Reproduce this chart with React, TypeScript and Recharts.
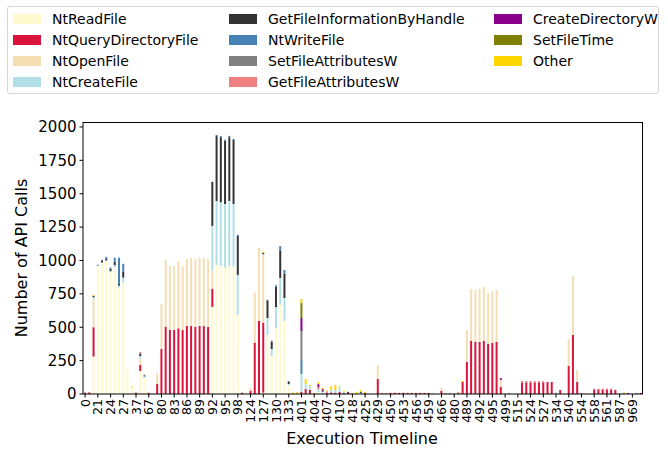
import { BarChart, Bar, XAxis, YAxis, Label } from 'recharts';

const timeline = [
  '0', '19', '20', '21', '22', '23', '24', '25', '26', '27', '28', '36', '37', '38', '39', '67', '68', '79',
  '80', '81', '82', '83', '84', '85', '86', '87', '88', '89', '90', '91', '92', '93', '94', '95', '96', '97',
  '98', '99', '123', '124', '125', '126', '127', '128', '129', '130', '131', '132', '133', '134', '400', '401',
  '402', '403', '404', '405', '406', '407', '408', '409', '410', '411', '417', '418', '419', '424', '425', '426',
  '428', '429', '430', '449', '450', '451', '452', '453', '454', '455', '456', '457', '458', '459', '460', '465',
  '466', '467', '479', '480', '481', '488', '489', '490', '491', '492', '493', '494', '495', '496', '497', '499',
  '500', '514', '515', '522', '523', '524', '525', '526', '527', '528', '529', '534', '535', '539', '540', '541',
  '542', '554', '556', '557', '558', '559', '560', '561', '562', '563', '587', '588', '600', '969', '970', '975',
];

// one value per timeline entry
const ntReadFile = [
  0, 0, 280, 960, 985, 1000, 912, 947, 797, 835, 187, 48, 0, 172, 122, 0, 0, 0,
  0, 0, 0, 0, 0, 0, 0, 0, 0, 0, 0, 0, 652, 966, 959, 946, 959, 954,
  592, 0, 0, 0, 0, 0, 10, 442, 285, 494, 667, 547, 65, 0, 0, 0,
  0, 0, 0, 15, 0, 0, 0, 0, 0, 0, 0, 0, 0, 0, 0, 0,
  0, 0, 0, 0, 0, 0, 0, 0, 0, 0, 0, 0, 0, 0, 0, 0,
  0, 0, 0, 0, 0, 0, 0, 0, 0, 0, 0, 0, 0, 0, 0, 0,
  0, 0, 0, 0, 0, 0, 0, 0, 0, 0, 0, 0, 0, 0, 0, 0,
  0, 0, 0, 0, 0, 0, 0, 0, 0, 0, 0, 0, 0, 0, 0, 0,
];
const ntQueryDirectoryFile = [
  10, 12, 220, 0, 0, 0, 0, 0, 0, 0, 0, 0, 10, 45, 0, 8, 0, 75,
  337, 502, 479, 479, 492, 479, 509, 509, 502, 509, 509, 502, 135, 0, 0, 0, 0, 0,
  0, 10, 0, 25, 385, 547, 525, 0, 0, 0, 0, 0, 0, 0, 0, 15,
  37, 30, 0, 0, 0, 8, 12, 8, 15, 8, 8, 0, 0, 0, 8, 0,
  0, 112, 0, 0, 8, 8, 8, 8, 8, 8, 8, 8, 8, 8, 0, 0,
  25, 0, 0, 0, 3, 90, 240, 397, 390, 390, 397, 375, 382, 390, 52, 0,
  0, 0, 0, 87, 87, 87, 87, 87, 87, 90, 90, 0, 30, 0, 210, 442,
  90, 0, 0, 0, 35, 35, 35, 35, 35, 30, 0, 0, 0, 0, 0, 0,
];
const ntOpenFile = [
  0, 0, 210, 0, 0, 0, 0, 0, 0, 0, 0, 0, 0, 47, 0, 8, 0, 80,
  337, 502, 479, 479, 504, 479, 502, 510, 507, 510, 510, 507, 142, 0, 0, 0, 0, 0,
  0, 5, 0, 22, 375, 549, 512, 0, 0, 0, 0, 0, 0, 0, 0, 0,
  0, 0, 0, 0, 0, 0, 0, 0, 0, 0, 0, 0, 0, 0, 0, 0,
  0, 105, 0, 0, 5, 0, 3, 0, 3, 3, 3, 3, 3, 3, 0, 0,
  20, 0, 0, 3, 0, 0, 240, 390, 390, 397, 405, 382, 390, 390, 50, 0,
  0, 0, 0, 0, 0, 0, 0, 0, 0, 0, 0, 0, 0, 0, 202, 442,
  90, 0, 0, 0, 0, 0, 0, 0, 0, 0, 0, 0, 0, 0, 0, 0,
];
const ntCreateFile = [
  0, 0, 15, 0, 0, 0, 8, 18, 15, 37, 0, 0, 0, 20, 8, 0, 0, 0,
  0, 0, 0, 0, 0, 0, 0, 0, 0, 0, 0, 0, 330, 479, 477, 477, 487, 469,
  300, 0, 0, 0, 0, 0, 0, 127, 52, 157, 202, 172, 10, 0, 0, 135,
  37, 30, 0, 20, 17, 0, 20, 22, 37, 10, 0, 0, 0, 8, 0, 0,
  0, 0, 0, 0, 0, 0, 0, 0, 0, 0, 0, 0, 0, 0, 8, 0,
  0, 0, 0, 0, 0, 0, 0, 0, 0, 0, 0, 0, 0, 0, 0, 0,
  0, 0, 0, 0, 0, 0, 0, 0, 0, 0, 0, 12, 0, 0, 0, 0,
  0, 0, 0, 0, 0, 0, 0, 0, 0, 0, 8, 0, 0, 0, 0, 0,
];
const getFileInformationByHandle = [
  0, 0, 10, 0, 15, 12, 15, 25, 15, 43, 0, 0, 0, 20, 0, 0, 0, 0,
  0, 0, 0, 0, 0, 0, 0, 0, 0, 0, 0, 0, 330, 487, 487, 474, 477, 479,
  292, 0, 0, 0, 0, 0, 10, 132, 55, 152, 202, 180, 17, 0, 0, 0,
  0, 0, 0, 0, 8, 0, 0, 0, 0, 0, 8, 0, 0, 8, 0, 0,
  0, 0, 0, 0, 0, 0, 0, 0, 0, 0, 0, 0, 0, 0, 0, 0,
  0, 0, 0, 0, 0, 0, 0, 0, 0, 0, 0, 0, 0, 0, 0, 0,
  0, 0, 0, 0, 0, 0, 0, 0, 0, 0, 0, 0, 0, 0, 0, 0,
  0, 0, 0, 0, 0, 0, 0, 0, 0, 0, 0, 0, 0, 0, 0, 0,
];
const ntWriteFile = [
  0, 0, 0, 8, 5, 15, 12, 30, 193, 60, 0, 0, 0, 0, 12, 0, 0, 0,
  0, 0, 0, 0, 0, 0, 0, 0, 0, 0, 0, 0, 0, 8, 8, 8, 10, 8,
  8, 0, 0, 0, 0, 0, 0, 5, 8, 12, 37, 30, 5, 0, 0, 105,
  0, 0, 0, 0, 0, 0, 0, 0, 0, 0, 0, 0, 0, 0, 0, 0,
  0, 0, 0, 0, 0, 0, 0, 0, 0, 0, 0, 0, 0, 0, 0, 0,
  0, 0, 0, 0, 0, 0, 0, 0, 0, 0, 0, 0, 0, 0, 0, 0,
  0, 0, 0, 0, 0, 0, 0, 0, 0, 0, 0, 0, 0, 0, 0, 0,
  0, 0, 0, 0, 0, 0, 0, 0, 0, 0, 0, 0, 0, 0, 8, 0,
];
const setFileAttributesW = [
  0, 0, 0, 0, 0, 0, 0, 0, 0, 0, 0, 0, 0, 0, 0, 0, 0, 0,
  0, 0, 0, 0, 0, 0, 0, 0, 0, 0, 0, 0, 0, 0, 0, 0, 0, 0,
  0, 0, 0, 0, 0, 0, 0, 0, 0, 0, 0, 0, 0, 0, 0, 217,
  0, 0, 0, 0, 0, 0, 0, 0, 0, 0, 0, 0, 0, 0, 0, 0,
  0, 0, 0, 0, 0, 0, 0, 0, 0, 0, 0, 0, 0, 0, 0, 0,
  0, 0, 0, 0, 0, 0, 0, 0, 0, 0, 0, 0, 0, 0, 0, 0,
  0, 0, 0, 0, 0, 0, 0, 0, 0, 0, 0, 0, 0, 0, 0, 0,
  0, 0, 0, 0, 0, 0, 0, 0, 0, 0, 0, 0, 0, 0, 0, 0,
];
const getFileAttributesW = [
  0, 0, 0, 0, 0, 0, 0, 0, 0, 0, 0, 0, 0, 10, 0, 0, 0, 0,
  0, 0, 0, 0, 0, 0, 0, 0, 0, 0, 0, 0, 0, 0, 0, 0, 0, 0,
  0, 0, 0, 0, 0, 0, 0, 0, 0, 0, 0, 0, 0, 0, 0, 0,
  0, 0, 0, 17, 0, 12, 0, 0, 0, 0, 0, 0, 0, 0, 0, 0,
  0, 0, 8, 8, 0, 3, 0, 3, 0, 0, 0, 0, 0, 0, 0, 0,
  0, 8, 8, 0, 0, 0, 0, 0, 0, 0, 0, 0, 0, 0, 5, 0,
  8, 0, 0, 10, 10, 10, 10, 10, 10, 0, 0, 0, 0, 0, 0, 0,
  0, 8, 0, 0, 5, 5, 5, 5, 5, 0, 0, 0, 0, 0, 0, 0,
];
const createDirectoryW = [
  0, 0, 0, 0, 0, 0, 0, 0, 0, 0, 0, 0, 0, 0, 0, 0, 0, 0,
  0, 0, 0, 0, 0, 0, 0, 0, 0, 0, 0, 0, 0, 0, 0, 0, 0, 0,
  0, 0, 0, 0, 0, 0, 0, 0, 0, 0, 0, 0, 0, 0, 0, 97,
  0, 0, 0, 22, 12, 0, 0, 0, 0, 0, 0, 0, 0, 0, 0, 0,
  0, 0, 0, 0, 0, 0, 0, 0, 0, 0, 0, 0, 0, 0, 0, 0,
  0, 0, 0, 0, 4, 0, 0, 0, 0, 0, 0, 0, 0, 0, 12, 0,
  0, 0, 0, 0, 0, 0, 0, 0, 0, 0, 0, 0, 0, 0, 0, 0,
  0, 0, 0, 0, 0, 0, 0, 0, 0, 0, 0, 5, 8, 0, 0, 8,
];
const setFileTime = [
  0, 0, 0, 0, 0, 0, 0, 0, 0, 0, 0, 0, 0, 0, 0, 0, 0, 0,
  0, 0, 0, 0, 0, 0, 0, 0, 0, 0, 0, 0, 0, 0, 0, 0, 0, 0,
  0, 0, 0, 0, 0, 0, 0, 0, 0, 0, 0, 0, 0, 0, 0, 112,
  0, 0, 0, 0, 0, 0, 0, 0, 0, 0, 0, 0, 0, 0, 0, 0,
  0, 0, 0, 0, 0, 0, 0, 0, 0, 0, 0, 0, 0, 0, 0, 0,
  0, 0, 0, 0, 5, 0, 0, 0, 0, 0, 0, 0, 0, 0, 0, 0,
  0, 0, 0, 0, 0, 0, 0, 0, 0, 0, 0, 0, 0, 0, 0, 0,
  0, 0, 0, 0, 0, 0, 0, 0, 0, 0, 0, 0, 0, 0, 0, 0,
];
const other = [
  0, 0, 8, 0, 0, 0, 0, 0, 0, 0, 0, 8, 0, 0, 5, 0, 0, 0,
  0, 0, 0, 0, 0, 0, 0, 0, 0, 0, 0, 0, 0, 0, 0, 0, 0, 0,
  0, 0, 0, 0, 0, 0, 8, 0, 0, 0, 0, 0, 0, 12, 15, 30,
  37, 8, 8, 15, 8, 8, 27, 38, 5, 8, 0, 8, 15, 15, 8, 0,
  0, 0, 0, 0, 0, 0, 0, 0, 0, 0, 0, 0, 0, 0, 0, 0,
  0, 0, 0, 0, 4, 8, 0, 0, 0, 0, 0, 0, 0, 0, 0, 0,
  0, 0, 0, 0, 0, 0, 0, 0, 0, 0, 0, 0, 0, 0, 0, 0,
  0, 0, 5, 0, 0, 0, 0, 0, 0, 0, 0, 8, 0, 0, 0, 0,
];

const yTicks = [0, 250, 500, 750, 1000, 1250, 1500, 1750, 2000];

const series = [
  { key: 'NtReadFile', values: ntReadFile, color: '#fffacd' },
  { key: 'NtQueryDirectoryFile', values: ntQueryDirectoryFile, color: '#dc143c' },
  { key: 'NtOpenFile', values: ntOpenFile, color: '#f5deb3' },
  { key: 'NtCreateFile', values: ntCreateFile, color: '#b0e0e6' },
  { key: 'GetFileInformationByHandle', values: getFileInformationByHandle, color: '#333333' },
  { key: 'NtWriteFile', values: ntWriteFile, color: '#4682b4' },
  { key: 'SetFileAttributesW', values: setFileAttributesW, color: '#808080' },
  { key: 'GetFileAttributesW', values: getFileAttributesW, color: '#f08080' },
  { key: 'CreateDirectoryW', values: createDirectoryW, color: '#8b008b' },
  { key: 'SetFileTime', values: setFileTime, color: '#808000' },
  { key: 'Other', values: other, color: '#ffd700' },
];

const data = timeline.map((t, i) => {
  const row: Record<string, string | number> = { t };
  series.forEach(s => { row[s.key] = s.values[i]; });
  return row;
});

const legendCols = [13, 229, 494];

function TimelineTick({ x, y, payload }: any) {
  return (
    <text transform={`translate(${x},${y + 1.5}) rotate(-90)`} textAnchor="end"
      dominantBaseline="central" fontSize={12.5} fill="#000">
      {payload.value}
    </text>
  );
}

export default function App() {
  return (
    <div style={{ position: 'relative', width: 668, height: 454, fontFamily: '"DejaVu Sans", sans-serif', background: '#fff' }}>
      <style>{'body{margin:0}'}</style>
      <div style={{ position: 'absolute', left: 7, top: 6, width: 652, height: 88, border: '1px solid #d6d6d6', borderRadius: 3, boxSizing: 'border-box' }} />
      {series.map((s, i) => {
        const col = Math.floor(i / 4);
        const row = i % 4;
        const left = legendCols[col];
        const mid = 18.5 + row * 21.3;
        return (
          <div key={s.key}>
            <div style={{ position: 'absolute', left, top: mid - 5, width: 28, height: 10, background: s.color }} />
            <div style={{ position: 'absolute', left: left + 39, top: mid - 9, fontSize: 14, lineHeight: '18px', color: '#000', whiteSpace: 'nowrap' }}>{s.key}</div>
          </div>
        );
      })}
      <div style={{ position: 'absolute', left: 0, top: 0 }}>
        <BarChart width={668} height={454} data={data} barCategoryGap="25%"
          margin={{ top: 122, right: 25, left: 0, bottom: 0 }}>
          <XAxis dataKey="t" interval={2} tick={<TimelineTick />} tickSize={3.5} tickMargin={0}
            height={60} stroke="#000" tickLine={{ stroke: '#000' }} axisLine={{ stroke: '#000' }}>
            <Label content={() => (
              <text x={362} y={444} textAnchor="middle" fontSize={16} fill="#000">Execution Timeline</text>
            )} />
          </XAxis>
          <YAxis domain={[0, 2037]} ticks={yTicks} width={83} tickSize={3.5} tickMargin={3}
            tick={{ fontSize: 15, fill: '#000' }} tickLine={{ stroke: '#000' }} axisLine={{ stroke: '#000' }}>
            <Label content={() => (
              <text transform="translate(27,258) rotate(-90)" textAnchor="middle" fontSize={16} fill="#000">
                Number of API Calls
              </text>
            )} />
          </YAxis>
          {series.map(s => (
            <Bar key={s.key} dataKey={s.key} stackId="a" fill={s.color} isAnimationActive={false} />
          ))}
        </BarChart>
      </div>
      <div style={{ position: 'absolute', left: 83, top: 122, width: 560, height: 272, border: '1px solid #000', borderLeft: 'none', borderBottom: 'none', boxSizing: 'border-box', pointerEvents: 'none' }} />
    </div>
  );
}
